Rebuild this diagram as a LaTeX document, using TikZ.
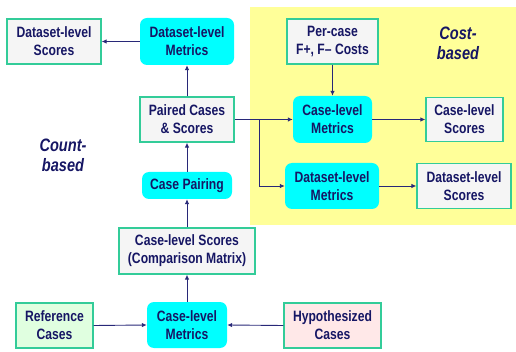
\documentclass[tikz,border=0pt]{standalone}
\usepackage{fontspec}
\setmainfont{Liberation Sans}[FakeStretch=0.81]
\usetikzlibrary{arrows.meta}
\definecolor{navy}{RGB}{22,22,100}
\definecolor{lnavy}{RGB}{40,40,120}
\definecolor{bgreen}{RGB}{51,204,153}
\definecolor{pyellow}{RGB}{255,255,153}
\definecolor{cyanfill}{RGB}{0,255,255}
\definecolor{grayfill}{RGB}{245,245,245}
\definecolor{greenfill}{RGB}{224,255,224}
\definecolor{pinkfill}{RGB}{255,232,232}
\tikzset{
  base/.style={align=center, text=navy, inner sep=0pt,
    font=\fontsize{15}{18}\selectfont\bfseries},
  sbox/.style={base, draw=bgreen, line width=1.3pt, fill=grayfill},
  mbox/.style={base, fill=cyanfill, rounded corners=7pt},
  label/.style={align=center, text=navy,
    font=\fontsize{18}{20}\selectfont\bfseries\itshape},
  conn/.style={draw=lnavy, line width=0.9pt, -{Latex[length=5pt,width=4.5pt]}},
  plain/.style={draw=lnavy, line width=0.9pt}
}
\begin{document}
\begin{tikzpicture}[x=1pt,y=-1pt]
\useasboundingbox (0,0) rectangle (516,352);
\fill[pyellow] (250,7) rectangle (516,225);
% left column
\node[sbox, minimum width=94, minimum height=45] (dsL) at (54,41.5) {Dataset-level\\Scores};
\node[mbox, minimum width=94, minimum height=47] (dmT) at (187,41.5) {Dataset-level\\Metrics};
\node[sbox, minimum width=94, minimum height=45] (paired) at (187,119.5) {Paired Cases\\\& Scores};
\node[mbox, minimum width=90, minimum height=27] (pairing) at (187,185.5) {Case Pairing};
\node[sbox, minimum width=136, minimum height=46] (cls) at (187,251) {Case-level Scores\\(Comparison Matrix)};
\node[sbox, fill=greenfill, minimum width=77, minimum height=45] (ref) at (54.5,325.5) {Reference\\Cases};
\node[mbox, minimum width=80, minimum height=46] (clmB) at (187,325) {Case-level\\Metrics};
\node[sbox, fill=pinkfill, minimum width=97, minimum height=45] (hyp) at (332.5,325.5) {Hypothesized\\Cases};
\node[label] (count) at (63,155) {Count-\\based};
% cost-based
\node[sbox, minimum width=91, minimum height=45] (costs) at (332.5,41.5) {Per-case\\F+, F– Costs};
\node[label] (cost) at (458,43) {Cost-\\based};
\node[mbox, minimum width=79, minimum height=47] (clmC) at (332.5,119.5) {Case-level\\Metrics};
\node[sbox, minimum width=77, minimum height=44] (clsC) at (464.5,119.5) {Case-level\\Scores};
\node[mbox, minimum width=94, minimum height=46] (dmC) at (332,186) {Dataset-level\\Metrics};
\node[sbox, minimum width=94, minimum height=45] (dsC) at (464,186) {Dataset-level\\Scores};
\coordinate (jn) at (259,119.5);
% connectors
\draw[conn] (dmT.west) -- (dsL.east);
\draw[conn] (paired.north) -- (dmT.south);
\draw[conn] (pairing.north) -- (paired.south);
\draw[conn] (cls.north) -- (pairing.south);
\draw[conn] (clmB.north) -- (cls.south);
\draw[conn] (ref.east) -- (clmB.west);
\draw[conn] (hyp.west) -- (clmB.east);
\draw[conn] (costs.south) -- (clmC.north);
\draw[conn] (clmC.east) -- (clsC.west);
\draw[conn] (dmC.east) -- (dsC.west);
\draw[plain] (paired.east) -- (jn);
\draw[conn] (jn) -- (clmC.west);
\draw[conn] (jn) |- (dmC.west);
\end{tikzpicture}
\end{document}
